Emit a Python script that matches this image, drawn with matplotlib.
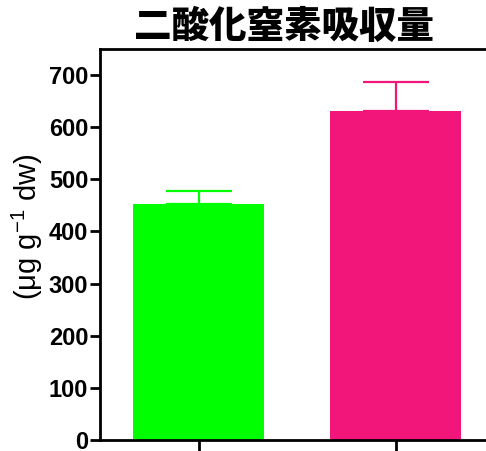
import matplotlib.pyplot as plt

plt.rcParams['font.family'] = ['Liberation Sans', 'DejaVu Sans']
plt.rcParams['mathtext.fontset'] = 'custom'
plt.rcParams['mathtext.rm'] = 'Liberation Sans'
plt.rcParams['mathtext.it'] = 'Liberation Sans'

# NO2 uptake per group
groups = ['A', 'B']
uptake = [453, 631]
uptake_err = [24, 55]
bar_colors = ['#00FF00', '#F2167B']
yticks = [0, 100, 200, 300, 400, 500, 600, 700]

fig = plt.figure(figsize=(4.86, 4.51), dpi=100)
ax = fig.add_axes([100 / 486, 11 / 451, 394 / 486, 391 / 451])

x = range(len(groups))
ax.bar(x, uptake, width=0.66, color=bar_colors, zorder=2)
# upper error only; the lower cap sits under the bar top
for xi, v, e, c in zip(x, uptake, uptake_err, bar_colors):
    ax.errorbar(xi, v, yerr=[[0], [e]], fmt='none', ecolor=c,
                elinewidth=1.6, capsize=23.8, capthick=1.6, zorder=1)

ax.set_xlim(-0.5, 1.5)
ax.set_ylim(0, 750)
ax.set_yticks(yticks)
ax.set_yticklabels([str(t) for t in yticks], fontsize=17, fontweight='bold')
ax.set_xticks(list(x))
ax.set_xticklabels(['', ''])
ax.tick_params(axis='y', length=7.5, width=2, pad=1)
ax.tick_params(axis='x', length=10, width=2)
for sp in ax.spines.values():
    sp.set_linewidth(2)
    sp.set_color('black')
ax.spines['right'].set_visible(False)

fig.text(27 / 486, 1 - 227 / 451, r'(μg g$^{-1}$ dw)', rotation=90,
         ha='center', va='center', fontsize=21)
fig.text(284 / 486, 1 - 27 / 451, '二酸化窒素吸収量',
         family=['Noto Sans CJK JP', 'DejaVu Sans'], fontweight='black',
         fontsize=27, ha='center', va='center')

fig.savefig('out.png', dpi=100)
